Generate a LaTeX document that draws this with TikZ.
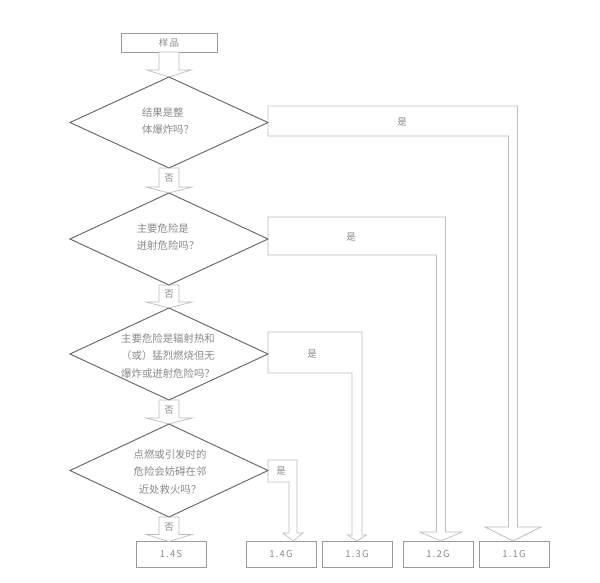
\documentclass[tikz,border=0pt]{standalone}
\usepackage{fontspec}
\setmainfont{Noto Sans CJK SC}
\usetikzlibrary{shapes.geometric,calc}
\definecolor{txtc}{HTML}{8A8A8A}
\definecolor{diac}{HTML}{6E6E6E}
\definecolor{boxc}{HTML}{9A9A9A}
\definecolor{arrc}{HTML}{BDBDBD}
\tikzset{
  blk/.style={draw=arrc,line width=0.7pt,fill=white,line join=miter},
  dia/.style={draw=diac,line width=0.7pt,shape=diamond,inner sep=0pt,outer sep=0pt,minimum width=198pt,minimum height=92pt},
  dtext/.style={text=txtc,font=\fontsize{10.4}{17.5}\selectfont,align=center,inner sep=0pt},
  resbox/.style={draw=boxc,line width=0.7pt,minimum width=70pt,minimum height=26pt,inner sep=0pt,outer sep=0pt,text=txtc,font=\fontsize{9.5}{11}\selectfont\addfontfeature{LetterSpace=12}},
  lbl/.style={text=txtc,font=\fontsize{9.5}{11}\selectfont,inner sep=0pt}
}
% vertical block arrow: from #1 (top) to #2 (tip), shaft half #3, head half #4, head length #5
\newcommand\vblk[5]{\draw[blk] ([xshift=-#3pt]#1) -- ([xshift=#3pt]#1) -- ([xshift=#3pt,yshift=#5pt]#2) -- ([xshift=#4pt,yshift=#5pt]#2) -- (#2) -- ([xshift=-#4pt,yshift=#5pt]#2) -- ([xshift=-#3pt,yshift=#5pt]#2) -- cycle;}
% L-shaped block arrow: diamond #1, box #2, band top shift #3, band bottom shift #4, tip x shift #5, shaft half #6, head half #7, head length #8
\newcommand\lblk[8]{%
  \coordinate (lt) at ([yshift=#3pt]#1.east);
  \coordinate (lb) at ([yshift=-#4pt]#1.east);
  \coordinate (tp) at ([xshift=#5pt]#2.north);
  \draw[blk] let \p1=(lt), \p2=(lb), \p3=(tp) in
    (\p1) -- (\x3+#6pt,\y1) -- (\x3+#6pt,\y3+#8pt) -- (\x3+#7pt,\y3+#8pt) -- (\p3)
    -- (\x3-#7pt,\y3+#8pt) -- (\x3-#6pt,\y3+#8pt) -- (\x3-#6pt,\y2) -- (\p2) -- cycle;}
\begin{document}
\begin{tikzpicture}[x=1pt,y=-1pt]
\useasboundingbox (0,0) rectangle (600,582);
\fill[white] (0,0) rectangle (600,582);

\node[resbox,minimum width=96pt,minimum height=19pt] (sample) at (169,42.5) {样品};

\node[dia,minimum height=91pt] (d1) at (169,122.5) {};
\node[dia] (d2) at (169,239) {};
\node[dia] (d3) at (169,354) {};
\node[dia,minimum height=93pt] (d4) at (169,470.5) {};

\node[resbox] (r14s) at (171,554.5) {1.4S};
\node[resbox] (r14g) at (281,554) {1.4G};
\node[resbox] (r13g) at (357,554) {1.3G};
\node[resbox] (r12g) at (438,554) {1.2G};
\node[resbox] (r11g) at (514,554) {1.1G};

% vertical arrows
\vblk{sample.south}{d1.north}{10}{22}{7}
\vblk{d1.south}{d2.north}{10}{23}{6}
\vblk{d2.south}{d3.north}{10}{23}{6}
\vblk{d3.south}{d4.north}{10}{23}{6}
\vblk{d4.south}{r14s.north -| d4.south}{10}{23}{7}

% L arrows
\lblk{d1}{r11g}{16.5}{13.5}{-1}{4.5}{28}{14}
\lblk{d2}{r12g}{22}{16}{3}{4.5}{21}{9}
\lblk{d3}{r13g}{22}{19}{0}{5}{9.5}{6}
\lblk{d4}{r14g}{10.5}{11.5}{12}{4}{10}{8}

% redraw diamonds on top
\node[dia,minimum height=91pt] at (d1) {};
\node[dia] at (d2) {};
\node[dia] at (d3) {};
\node[dia,minimum height=93pt] at (d4) {};

% diamond texts
\node[dtext,align=left] (t1) at (168,121) {结果是整\\体爆炸吗？};
\node[dtext,align=left] (t2) at (168,237) {主要危险是\\迸射危险吗？};
\node[dtext] (t3) at (168,356) {主要危险是辐射热和\\（或）猛烈燃烧但无\\爆炸或迸射危险吗？};
\node[dtext] (t4) at (170,472) {点燃或引发时的\\危险会妨碍在邻\\近处救火吗？};

% labels
\node[lbl] (n1) at (169,178) {否};
\node[lbl] (n2) at (169,294) {否};
\node[lbl] (n3) at (169,410) {否};
\node[lbl] (n4) at (169,527) {否};
\node[lbl] (y1) at (402,122) {是};
\node[lbl] (y2) at (351,237) {是};
\node[lbl] (y3) at (312,354) {是};
\node[lbl] (y4) at (281,471) {是};
\end{tikzpicture}
\end{document}
